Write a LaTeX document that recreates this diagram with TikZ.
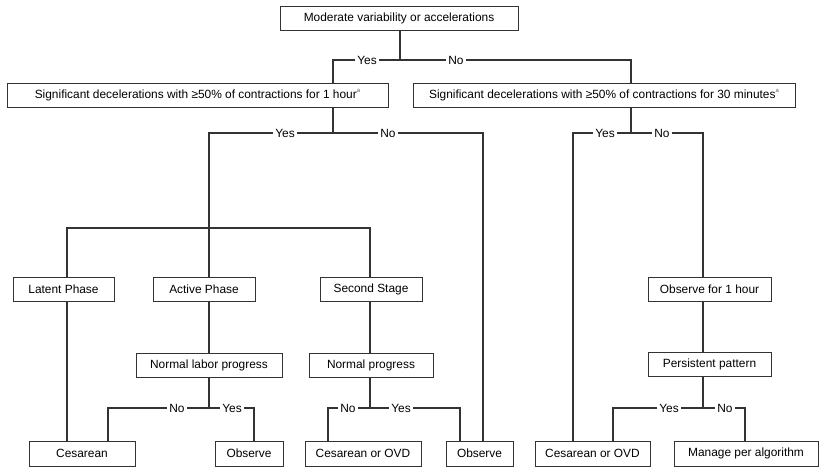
\documentclass[tikz,border=0pt]{standalone}
\usepackage{fontspec}
\setmainfont{Liberation Sans}
\definecolor{ln}{HTML}{333333}
\newcommand{\supa}{\raisebox{1.0ex}{\fontsize{6}{7}\selectfont\color{black!60}a}}
\begin{document}
\begin{tikzpicture}[x=1pt,y=-1pt,
  box/.style={draw=black!80, line width=0.8pt, fill=white, minimum height=24pt, inner sep=0pt, font=\fontsize{11.9}{14}\selectfont},
  conn/.style={draw=ln, line width=1.8pt},
  lbl/.style={fill=white, inner xsep=2.5pt, inner ysep=1pt, font=\fontsize{11.9}{14}\selectfont}]
\useasboundingbox (0,0) rectangle (834,473);
% boxes
\node[box, minimum width=238pt] (top) at (399,18) {Moderate variability or accelerations};
\node[box, minimum width=381pt] (sigA) at (197.5,95) {Significant decelerations with ≥50\% of contractions for 1 hour\supa};
\node[box, minimum width=382pt] (sigB) at (604,95) {Significant decelerations with ≥50\% of contractions for 30 minutes\supa};
\node[box, minimum width=101pt] (latent) at (63.5,289) {Latent Phase};
\node[box, minimum width=102pt] (active) at (204,289) {Active Phase};
\node[box, minimum width=102pt] (second) at (371,289) {Second Stage};
\node[box, minimum width=146pt] (nlp) at (209,365) {Normal labor progress};
\node[box, minimum width=124pt] (np) at (371,365) {Normal progress};
\node[box, minimum width=123pt] (obsh) at (709.5,289) {Observe for 1 hour};
\node[box, minimum width=123pt] (pers) at (709.5,364.5) {Persistent pattern};
\node[box, minimum width=106pt, minimum height=25pt] (ces) at (82,453.5) {Cesarean};
\node[box, minimum width=68pt, minimum height=25pt] (obsL) at (249,453.5) {Observe};
\node[box, minimum width=116pt, minimum height=25pt] (covdL) at (363,453.5) {Cesarean or OVD};
\node[box, minimum width=67pt, minimum height=25pt] (obsR) at (479.5,453.5) {Observe};
\node[box, minimum width=115pt, minimum height=25pt] (covdR) at (592.5,453.5) {Cesarean or OVD};
\node[box, minimum width=144pt, minimum height=25pt] (manage) at (746,453.5) {Manage per algorithm};
% junction coordinates
\coordinate (j1) at (400,60);
\coordinate (j1l) at (333,60);
\coordinate (j1r) at (631,60);
\coordinate (j2) at (333,133);
\coordinate (j2l) at (209,133);
\coordinate (j2r) at (483,133);
\coordinate (j3) at (209,228);
\coordinate (j3l) at (67,228);
\coordinate (j3r) at (370,228);
\coordinate (j4) at (209,408);
\coordinate (j4l) at (108,408);
\coordinate (j4r) at (254,408);
\coordinate (j5) at (370,408);
\coordinate (j5l) at (328,408);
\coordinate (j5r) at (460,408);
\coordinate (j6) at (631,133);
\coordinate (j6l) at (573,133);
\coordinate (j6r) at (703,133);
\coordinate (j7) at (703,408);
\coordinate (j7l) at (613,408);
\coordinate (j7r) at (745,408);
% connectors
\draw[conn] (j1 |- top.south) -- (j1);
\draw[conn] (j1l |- sigA.north) -- (j1l) -- (j1r) -- (j1r |- sigB.north);
\draw[conn] (j2 |- sigA.south) -- (j2);
\draw[conn] (j2l |- j3) -- (j2l) -- (j2r) -- (j2r |- obsR.north);
\draw[conn] (j3l |- latent.north) -- (j3l) -- (j3r) -- (j3r |- second.north);
\draw[conn] (j3) -- (j3 |- active.north);
\draw[conn] (j3l |- latent.south) -- (j3l |- ces.north);
\draw[conn] (j4 |- active.south) -- (j4 |- nlp.north);
\draw[conn] (j4 |- nlp.south) -- (j4);
\draw[conn] (j4l |- ces.north) -- (j4l) -- (j4r) -- (j4r |- obsL.north);
\draw[conn] (j5 |- second.south) -- (j5 |- np.north);
\draw[conn] (j5 |- np.south) -- (j5);
\draw[conn] (j5l |- covdL.north) -- (j5l) -- (j5r) -- (j5r |- obsR.north);
\draw[conn] (j6 |- sigB.south) -- (j6);
\draw[conn] (j6l |- covdR.north) -- (j6l) -- (j6r) -- (j6r |- obsh.north);
\draw[conn] (j7 |- obsh.south) -- (j7 |- pers.north);
\draw[conn] (j7 |- pers.south) -- (j7);
\draw[conn] (j7l |- covdR.north) -- (j7l) -- (j7r) -- (j7r |- manage.north);
% labels
\node[lbl] (y1) at (367,60) {Yes};
\node[lbl] (n1) at (456,60) {No};
\node[lbl] (y2) at (285,133) {Yes};
\node[lbl] (n2) at (388,133) {No};
\node[lbl] (y3) at (605,133) {Yes};
\node[lbl] (n3) at (662,133) {No};
\node[lbl] (n4) at (177,408) {No};
\node[lbl] (y4) at (232,408) {Yes};
\node[lbl] (n5) at (348,408) {No};
\node[lbl] (y5) at (401,408) {Yes};
\node[lbl] (y6) at (669,408) {Yes};
\node[lbl] (n6) at (725,408) {No};
\end{tikzpicture}
\end{document}
